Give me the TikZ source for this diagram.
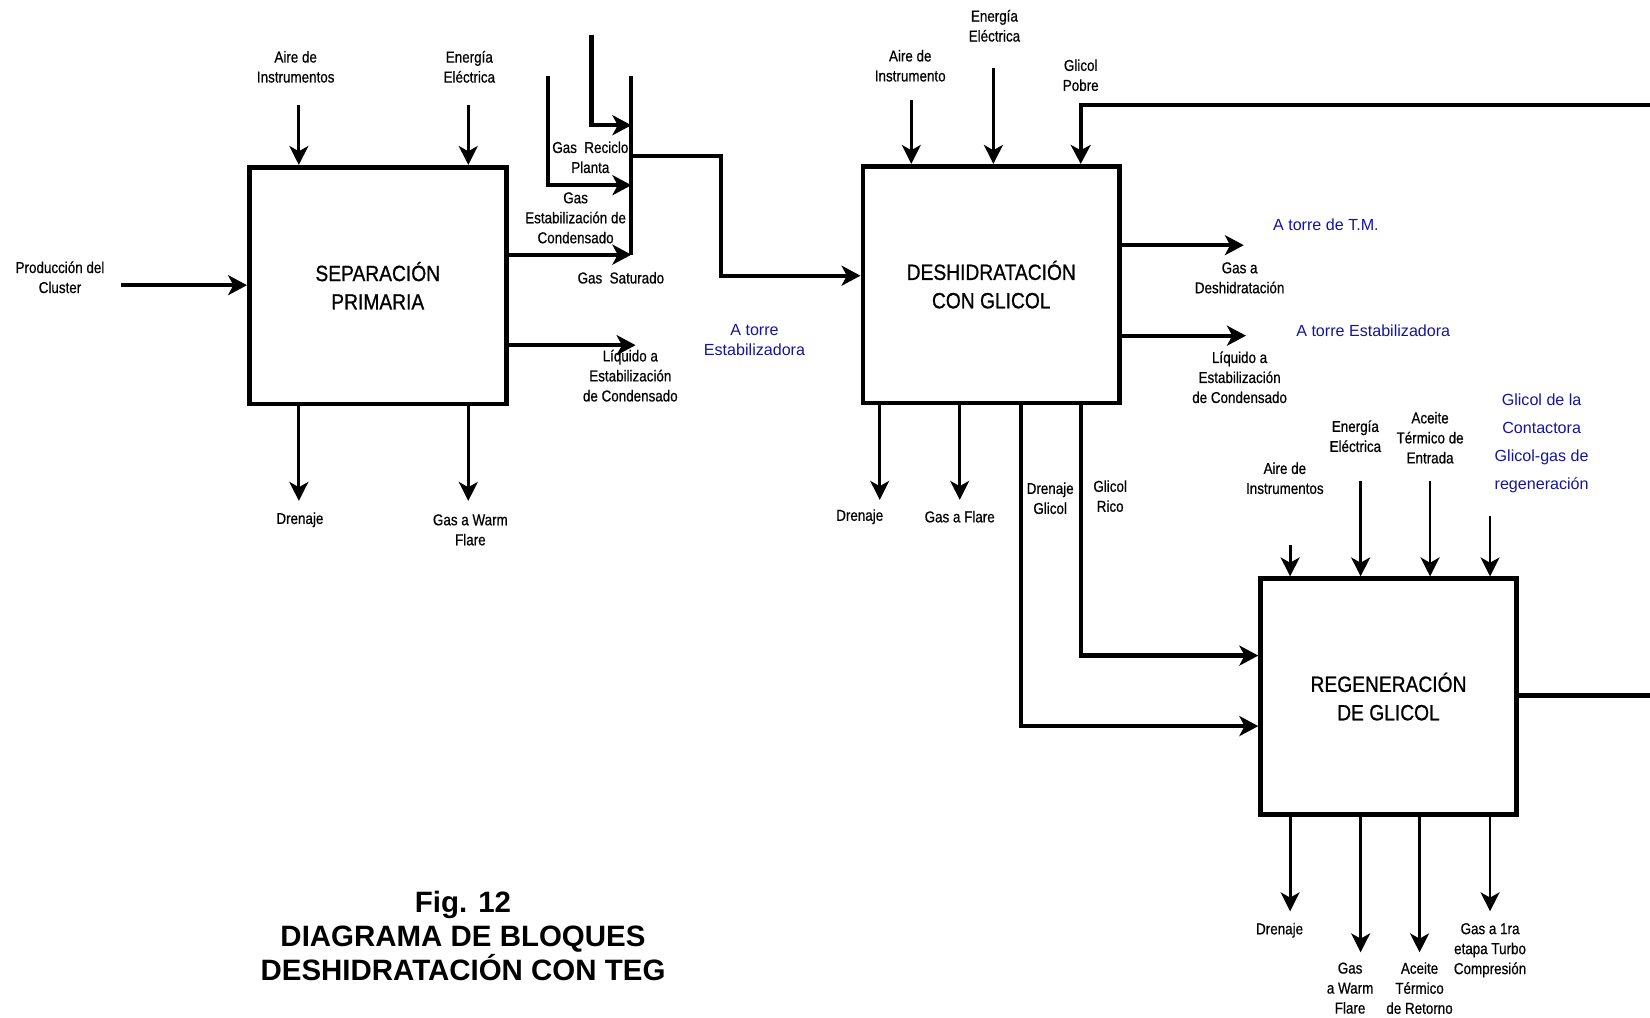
\documentclass[tikz,border=0pt]{standalone}
\usepackage{fontspec}
\setmainfont{Liberation Sans}
\newfontfamily\narrowfont[FakeStretch=0.85,FakeBold=0.6]{Liberation Sans}
\newfontfamily\boxfont[FakeStretch=0.87,FakeBold=0.8]{Liberation Sans}
\usetikzlibrary{arrows.meta}
\definecolor{navy}{RGB}{20,20,160}
\begin{document}
\begin{tikzpicture}[x=1pt,y=-1pt,
  blk/.style={draw, line width=4.5pt, minimum width=244pt, minimum height=225pt,
    font=\boxfont\fontsize{21}{27}\selectfont, align=center, inner sep=0pt},
  lbl/.style={font=\narrowfont\fontsize{15}{19}\selectfont, align=center, inner sep=0pt},
  blu/.style={font=\fontsize{15.3}{19}\selectfont, text=navy, align=center, inner sep=0pt},
  figcaption/.style={font=\bfseries\fontsize{28}{32.5}\selectfont, align=center, inner sep=0pt},
  tarr/.style={line width=2.6pt, -{Stealth[length=18pt,width=18pt,inset=5pt]}},
  karr/.style={line width=4pt, line join=miter, -{Stealth[length=18pt,width=19pt,inset=5pt]}},
  kline/.style={line width=4pt, line join=miter}]
\useasboundingbox (0,0) rectangle (1568,967);

% blocks
\node[blk] (sep) at (359,271.5) {SEPARACIÓN\\PRIMARIA};
\node[blk] (desh) at (942,270.5) {DESHIDRATACIÓN\\CON GLICOL};
\node[blk, minimum width=243pt, minimum height=224pt] (reg) at (1319.5,662) {REGENERACIÓN\\DE GLICOL};

% ---- Separación primaria
\coordinate (sIn) at (115,271);
\draw[karr] (sIn) -- (sIn -| sep.west);
\coordinate (sAi) at (284,100);
\draw[tarr] (sAi) -- (sAi |- sep.north);
\coordinate (sEe) at (445,100);
\draw[tarr] (sEe) -- (sEe |- sep.north);
\coordinate (sDr) at (284,476);
\draw[tarr] (sDr |- sep.south) -- (sDr);
\coordinate (sGw) at (445,476);
\draw[tarr] (sGw |- sep.south) -- (sGw);
\coordinate (colT) at (600,72);
\coordinate (colB) at (600,242);
\draw[kline] (colT) -- (colB);
\draw[karr] (colB -| sep.east) -- (colB);
\coordinate (sLq) at (604,328);
\draw[karr] (sLq -| sep.east) -- (sLq);
\coordinate (rc) at (562,33);
\coordinate (rcE) at (600,119);
\draw[karr] (rc) |- (rcE);
\coordinate (ec) at (521,72);
\coordinate (ecE) at (600,176);
\draw[karr] (ec) |- (ecE);
\coordinate (co) at (600,148);
\coordinate (cb) at (685,262);
\draw[karr] (co) -| (cb) -- (cb -| desh.west);

% ---- Deshidratación
\coordinate (dAi) at (866,95);
\draw[tarr] (dAi) -- (dAi |- desh.north);
\coordinate (dEe) at (944,65);
\draw[tarr] (dEe) -- (dEe |- desh.north);
\coordinate (gpR) at (1568,100);
\coordinate (gp) at (1027,100);
\draw[karr] (gpR) -- (gp) -- (gp |- desh.north);
\coordinate (dG) at (1182,233);
\draw[karr] (dG -| desh.east) -- (dG);
\coordinate (dL) at (1184,319);
\draw[karr] (dL -| desh.east) -- (dL);
\coordinate (dDr) at (836,475);
\draw[tarr] (dDr |- desh.south) -- (dDr);
\coordinate (dGf) at (912,475);
\draw[tarr] (dGf |- desh.south) -- (dGf);
\coordinate (dgx) at (970,690);
\draw[karr] (dgx |- desh.south) -- (dgx) -- (dgx -| reg.west);
\coordinate (grx) at (1027,623);
\draw[karr] (grx |- desh.south) -- (grx) -- (grx -| reg.west);

% ---- Regeneración
\coordinate (rAi) at (1226,518);
\draw[tarr] (rAi) -- (rAi |- reg.north);
\coordinate (rEe) at (1293,457);
\draw[tarr] (rEe) -- (rEe |- reg.north);
\coordinate (rAt) at (1359,457);
\draw[tarr] (rAt) -- (rAt |- reg.north);
\coordinate (rGc) at (1416,490);
\draw[tarr] (rGc) -- (rGc |- reg.north);
\coordinate (rDr) at (1226,866);
\draw[tarr] (rDr |- reg.south) -- (rDr);
\coordinate (rGw) at (1293,905);
\draw[tarr] (rGw |- reg.south) -- (rGw);
\coordinate (rAr) at (1349,905);
\draw[tarr] (rAr |- reg.south) -- (rAr);
\coordinate (rGt) at (1416,866);
\draw[tarr] (rGt |- reg.south) -- (rGt);
\coordinate (rO) at (1568,661);
\draw[kline] (rO -| reg.east) -- (rO);

% ---- labels
\node[lbl] (l1) at (57,263.5) {Producción del\\Cluster};
\node[lbl] (l2) at (281,63.5) {Aire de\\Instrumentos};
\node[lbl] (l3) at (446,63.5) {Energía\\Eléctrica};
\node[lbl] (l4) at (285,494) {Drenaje};
\node[lbl] (l5) at (447,503.5) {Gas a Warm\\Flare};
\node[lbl] (l6) at (561,149.5) {Gas\ \ Reciclo\\Planta};
\node[lbl] (l7) at (547,207) {Gas\\Estabilización de\\Condensado};
\node[lbl] (l8) at (590,264) {Gas\ \ Saturado};
\node[lbl] (l9) at (599,357) {Líquido a\\Estabilización\\de Condensado};
\node[blu] (b1) at (717,323) {A torre\\Estabilizadora};
\node[lbl] (l10) at (865,62.5) {Aire de\\Instrumento};
\node[lbl] (l11) at (945,24.5) {Energía\\Eléctrica};
\node[lbl] (l12) at (1027,71.5) {Glicol\\Pobre};
\node[lbl] (l13) at (1178,264) {Gas a\\Deshidratación};
\node[blu] (b2) at (1260,214) {A torre de T.M.};
\node[lbl] (l14) at (1178,358.5) {Líquido a\\Estabilización\\de Condensado};
\node[blu] (b3) at (1305,314) {A torre Estabilizadora};
\node[lbl] (l15) at (817,491) {Drenaje};
\node[lbl] (l16) at (912,491) {Gas a Flare};
\node[lbl] (l17) at (998,473.5) {Drenaje\\Glicol};
\node[lbl] (l18) at (1055,471.5) {Glicol\\Rico};
\node[lbl] (l19) at (1221,454.5) {Aire de\\Instrumentos};
\node[lbl] (l20) at (1288,414.5) {Energía\\Eléctrica};
\node[lbl] (l21) at (1359,416) {Aceite\\Térmico de\\Entrada};
\node[blu, font=\fontsize{15.3}{26.5}\selectfont] (b4) at (1465,421.5) {Glicol de la\\Contactora\\Glicol-gas de\\regeneración};
\node[lbl] (l22) at (1216,884) {Drenaje};
\node[lbl] (l23) at (1283,939) {Gas\\a Warm\\Flare};
\node[lbl] (l24) at (1349,939) {Aceite\\Térmico\\de Retorno};
\node[lbl] (l25) at (1416,903) {Gas a 1ra\\etapa Turbo\\Compresión};

\node[figcaption] (title) at (440,889.5) {Fig. 12\\DIAGRAMA DE BLOQUES\\DESHIDRATACIÓN CON TEG};
\end{tikzpicture}
\end{document}
